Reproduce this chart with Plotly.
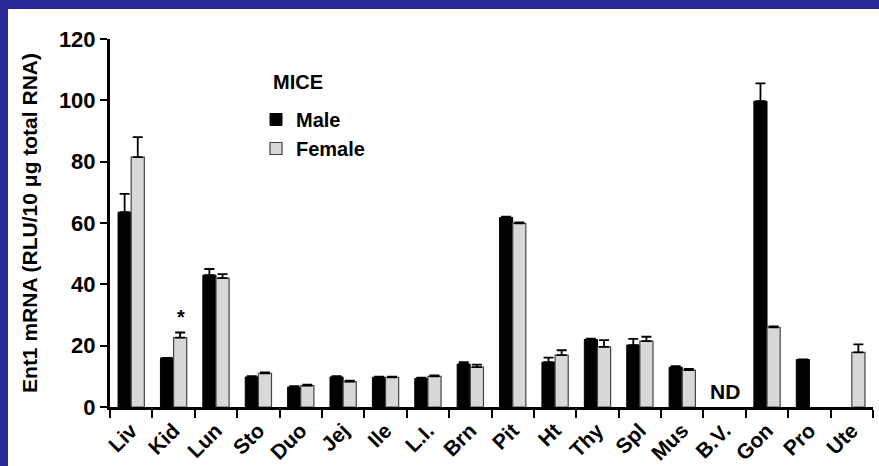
import plotly.graph_objects as go

tissues = ["Liv", "Kid", "Lun", "Sto", "Duo", "Jej", "Ile", "L.I.", "Brn", "Pit",
           "Ht", "Thy", "Spl", "Mus", "B.V.", "Gon", "Pro", "Ute"]
male = [63.5, 16.0, 43.0, 9.8, 6.5, 9.8, 9.7, 9.3, 14.0, 61.8,
        14.6, 22.0, 20.2, 13.0, None, 99.7, 15.5, None]
male_err = [6.0, 0.0, 2.0, 0.3, 0.3, 0.3, 0.2, 0.3, 0.6, 0.3,
            1.5, 0.3, 2.0, 0.3, 0.0, 5.8, 0.0, 0.0]
female = [81.5, 22.6, 42.0, 11.0, 7.0, 8.3, 9.7, 10.0, 13.0, 59.9,
          16.9, 19.6, 21.5, 12.0, None, 26.0, None, 17.8]
female_err = [6.5, 1.7, 1.3, 0.3, 0.3, 0.3, 0.2, 0.3, 0.8, 0.3,
              1.6, 2.2, 1.4, 0.4, 0.0, 0.3, 0.0, 2.6]
y_ticks = [0, 20, 40, 60, 80, 100, 120]

FONT = "Liberation Sans, Arial, sans-serif"
BLUE = "#2a2799"

fig = go.Figure()
fig.add_trace(go.Bar(
    name="Male", x=tissues, y=male, legendgroup="m",
    marker=dict(color="black", line=dict(color="black", width=1)),
    error_y=dict(type="data", array=male_err, arrayminus=[0] * len(male_err),
                 symmetric=False, color="black", thickness=1.8, width=5),
))
fig.add_trace(go.Bar(
    name="Female", x=tissues, y=female, legendgroup="f",
    marker=dict(color="#d8d8d8", line=dict(color="#444444", width=1.2)),
    error_y=dict(type="data", array=female_err, arrayminus=[0] * len(female_err),
                 symmetric=False, color="black", thickness=1.8, width=5),
))

W, H = 879, 466
ml, mr, mt, mb = 110, 6, 39, 59
pw, ph = W - ml - mr, H - mt - mb
def px2x(p):
    return (p - ml) / pw
def py2y(p):
    return (H - mb - p) / ph

fig.add_annotation(x="Kid", y=29.5, text="*", showarrow=False, xshift=7,
                   font=dict(size=20, color="black", family=FONT, weight="bold"))
fig.add_annotation(x="B.V.", y=4.9, text="ND", showarrow=False,
                   font=dict(size=21, color="black", family=FONT))
fig.add_annotation(xref="paper", yref="paper", x=px2x(271), y=py2y(82),
                   xanchor="left", yanchor="middle", text="MICE", showarrow=False,
                   font=dict(size=20, color="black", family=FONT, weight="bold"))

# blue frame strips (top and left)
fig.add_shape(type="rect", xref="paper", yref="paper",
              x0=px2x(-2), x1=px2x(W + 2), y0=py2y(9), y1=py2y(-2),
              fillcolor=BLUE, line=dict(width=0), layer="below")
fig.add_shape(type="rect", xref="paper", yref="paper",
              x0=px2x(-2), x1=px2x(8), y0=py2y(H + 2), y1=py2y(-2),
              fillcolor=BLUE, line=dict(width=0), layer="below")

fig.update_layout(
    width=W, height=H,
    margin=dict(l=ml, r=mr, t=mt, b=mb, autoexpand=False),
    paper_bgcolor="white", plot_bgcolor="white",
    font=dict(family=FONT, size=20, color="black", weight="bold"),
    barmode="group", bargap=0.38, bargroupgap=0.0,
    showlegend=True,
    legend=dict(x=px2x(256), y=py2y(100), xanchor="left", yanchor="top",
                bgcolor="rgba(0,0,0,0)", tracegroupgap=11,
                font=dict(size=20, family=FONT, weight="bold"),
                traceorder="normal"),
    xaxis=dict(type="category", showline=True, linecolor="black", linewidth=3,
               ticks="outside", tickson="boundaries", ticklen=8, tickwidth=2,
               tickcolor="black", tickangle=-45, showgrid=False,
               tickfont=dict(size=21, family=FONT, weight="bold")),
    yaxis=dict(range=[0, 120], tickvals=y_ticks, showline=True, linecolor="black",
               linewidth=3, ticks="outside", ticklen=7, tickwidth=2, tickcolor="black",
               showgrid=False, zeroline=False,
               tickfont=dict(size=22, family=FONT, weight="bold"),
               title=dict(text="Ent1 mRNA (RLU/10 \u03bcg total RNA)",
                          font=dict(size=21, family=FONT, weight="bold"),
                          standoff=16)),
)

fig.write_html("out.html", config={"displayModeBar": False},
               post_script="document.body.style.margin='0';document.body.style.overflow='hidden';")
